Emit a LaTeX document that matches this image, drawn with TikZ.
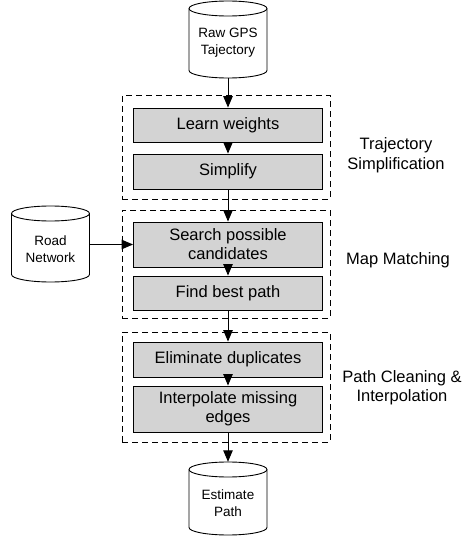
\documentclass[tikz,border=0pt]{standalone}
\usepackage{fontspec}
\setmainfont{Liberation Sans}
\usetikzlibrary{arrows.meta}
\definecolor{boxgray}{RGB}{211,211,211}
\newcommand\mycyl[3]{%
  \draw[line width=0.9pt, fill=white] (#1-39,#2-7.5) -- (#1-39,#3+7.5)
    arc[start angle=180,end angle=360,x radius=39,y radius=7.5]
    -- (#1+39,#2-7.5)
    arc[start angle=0,end angle=180,x radius=39,y radius=7.5] -- cycle;
  \draw[line width=0.9pt] (#1-39,#2-7.5)
    arc[start angle=180,end angle=360,x radius=39,y radius=7.5];
}
\tikzset{
  stepbox/.style={draw=black, line width=0.9pt, fill=boxgray, minimum width=189pt,
    inner sep=0pt, align=center, font=\fontsize{16.5}{19}\selectfont},
  group/.style={draw=black, line width=0.9pt, dash pattern=on 6pt off 4pt,
    minimum width=208pt, inner sep=0pt},
  cyltext/.style={align=center, font=\fontsize{13.5}{17}\selectfont, inner sep=0pt},
  cylarea/.style={minimum width=78pt, inner sep=0pt},
  side/.style={align=center, font=\fontsize{16.5}{19.5}\selectfont, inner sep=0pt},
  arr/.style={line width=1pt, -{Triangle[length=11.5pt,width=9.5pt]}},
}
\begin{document}
\begin{tikzpicture}[x=1pt,y=1pt]
\useasboundingbox (0,0) rectangle (476,539);
% cylinders
\mycyl{228}{538}{461}
\mycyl{50.5}{333}{257}
\mycyl{228}{77}{4}
\node[cylarea, minimum height=77pt] (gps) at (228,499.5) {};
\node[cyltext] (gpstext) at (228,496) {Raw GPS\\Tajectory};
\node[cylarea, minimum height=76pt] (road) at (50.5,294.5) {};
\node[cyltext] (roadtext) at (50.5,290) {Road\\Network};
\node[cylarea, minimum height=73pt] (est) at (228,40.5) {};
\node[cyltext] (esttext) at (228,36) {Estimate\\Path};
% groups
\node[group, minimum height=103.5pt] (g1) at (226,391.75) {};
\node[group, minimum height=108pt] (g2) at (226,275) {};
\node[group, minimum height=110pt] (g3) at (226,152) {};
% steps
\node[stepbox, minimum height=34pt] (learn) at (228,414) {Learn weights};
\node[stepbox, minimum height=35pt] (simp) at (228,367.5) {Simplify};
\node[stepbox, minimum height=45pt] (search) at (228,294.5) {Search possible\\candidates};
\node[stepbox, minimum height=34pt] (find) at (228,246) {Find best path};
\node[stepbox, minimum height=35pt] (elim) at (228,179.5) {Eliminate duplicates};
\node[stepbox, minimum height=46pt] (interp) at (228,130) {Interpolate missing\\edges};
% side labels
\node[side] (l1) at (396,384) {Trajectory\\Simplification};
\node[side] (l2) at (398,279) {Map Matching};
\node[side] (l3) at (402,151.5) {Path Cleaning \&\\Interpolation};
% arrows
\draw[arr] (gps.south) -- (learn.north);
\draw[arr] (learn.south) -- (simp.north);
\draw[arr] (simp.south) -- (search.north);
\draw[arr] (road.east) -- (search.west);
\draw[arr] (search.south) -- (find.north);
\draw[arr] (find.south) -- (elim.north);
\draw[arr] (elim.south) -- (interp.north);
\draw[arr] (interp.south) -- (est.north);
\end{tikzpicture}
\end{document}
